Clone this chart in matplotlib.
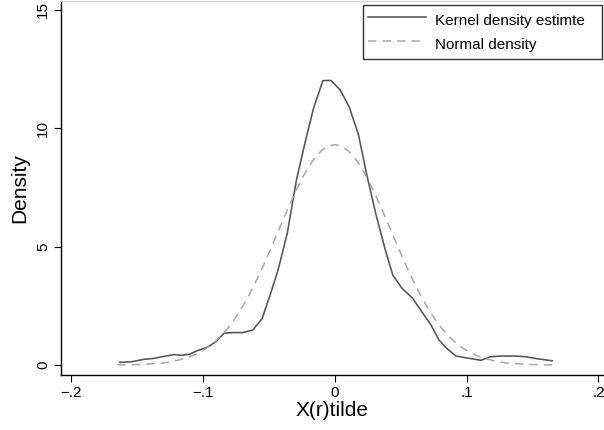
import numpy as np
import matplotlib
matplotlib.use('Agg')
import matplotlib.pyplot as plt

plt.rcParams['font.family'] = ['Liberation Sans', 'DejaVu Sans']

# kernel density estimate
kde_x = [-0.163, -0.154, -0.145, -0.137, -0.131, -0.122, -0.116, -0.110, -0.105,
         -0.096, -0.090, -0.084, -0.077, -0.070, -0.062, -0.055, -0.049, -0.043,
         -0.036, -0.029, -0.022, -0.016, -0.009, -0.003, 0.004, 0.011, 0.018,
         0.024, 0.031, 0.038, 0.044, 0.051, 0.059, 0.066, 0.073, 0.079, 0.085,
         0.092, 0.099, 0.111, 0.118, 0.126, 0.137, 0.145, 0.153, 0.165]
kde_y = [0.11, 0.14, 0.24, 0.28, 0.35, 0.44, 0.41, 0.46, 0.59,
         0.77, 0.99, 1.34, 1.37, 1.37, 1.48, 1.97, 2.96, 4.01,
         5.56, 7.82, 9.51, 10.85, 12.0, 12.01, 11.62, 10.89, 9.72,
         8.10, 6.41, 4.93, 3.80, 3.24, 2.82, 2.25, 1.69, 1.06, 0.70,
         0.38, 0.31, 0.20, 0.35, 0.38, 0.38, 0.35, 0.27, 0.18]

# normal density
norm_x = np.round(np.arange(-0.165, 0.1651, 0.005), 3)
norm_half = [0.01, 0.01, 0.01, 0.02, 0.03, 0.05, 0.07, 0.09, 0.13, 0.19, 0.26,
             0.35, 0.46, 0.61, 0.80, 1.03, 1.30, 1.63, 2.02, 2.46, 2.95, 3.50,
             4.09, 4.72, 5.37, 6.02, 6.67, 7.28, 7.85, 8.34, 8.75, 9.05, 9.24]
norm_y = norm_half + [9.30] + norm_half[::-1]

xticks = [-0.2, -0.1, 0, 0.1, 0.2]
xtick_labels = ['\u2212.2', '\u2212.1', '0', '.1', '.2']
yticks = [0, 5, 10, 15]

W, H = 604, 430
fig = plt.figure(figsize=(W / 100, H / 100), dpi=100)
ax_l, ax_b, ax_t = 61, 55, 1
ax = fig.add_axes([ax_l / W, ax_b / H, 1 - ax_l / W, 1 - (ax_b + ax_t) / H])

ax.plot(kde_x, kde_y, color='#555555', lw=1.15, label='Kernel density estimte')
ax.plot(norm_x, norm_y, color='#a8a8a8', lw=1.1, dashes=(5.5, 4),
        label='Normal density')

ax.set_xlim(-0.2076, 0.2042)
ax.set_ylim(-0.42, 15.36)
ax.set_xticks(xticks)
ax.set_xticklabels(xtick_labels)
ax.set_yticks(yticks)
ax.set_yticklabels([str(t) for t in yticks], rotation=90, va='center')
ax.tick_params(axis='both', direction='out', length=5, width=0.8,
               labelsize=11, color='black', pad=3)

ax.spines['right'].set_visible(False)
ax.spines['top'].set_color('#d0d0d0')
ax.spines['top'].set_linewidth(0.8)
ax.spines['left'].set_linewidth(1.0)
ax.spines['bottom'].set_linewidth(1.0)

ax.set_xlabel('X(r)tilde', fontsize=15, labelpad=1)
ax.set_ylabel('Density', fontsize=15, labelpad=5)

# legend box: pixels 363..602 wide, 5..57 tall
aw, ah = W - ax_l, H - ax_b - ax_t
bx0 = (363 - ax_l) / aw
by1 = 1 - (5 - ax_t) / ah
leg = ax.legend(loc='upper left', bbox_to_anchor=(bx0, by1 - 0.2, (602 - 363) / aw, 0.2),
                mode='expand', fontsize=11, frameon=True, fancybox=False,
                edgecolor='black', handlelength=3.8, handletextpad=0.6,
                handleheight=1.75, borderpad=0.3, labelspacing=0.15,
                borderaxespad=0)
leg.get_frame().set_linewidth(1.0)

fig.savefig('out.png', dpi=100)
